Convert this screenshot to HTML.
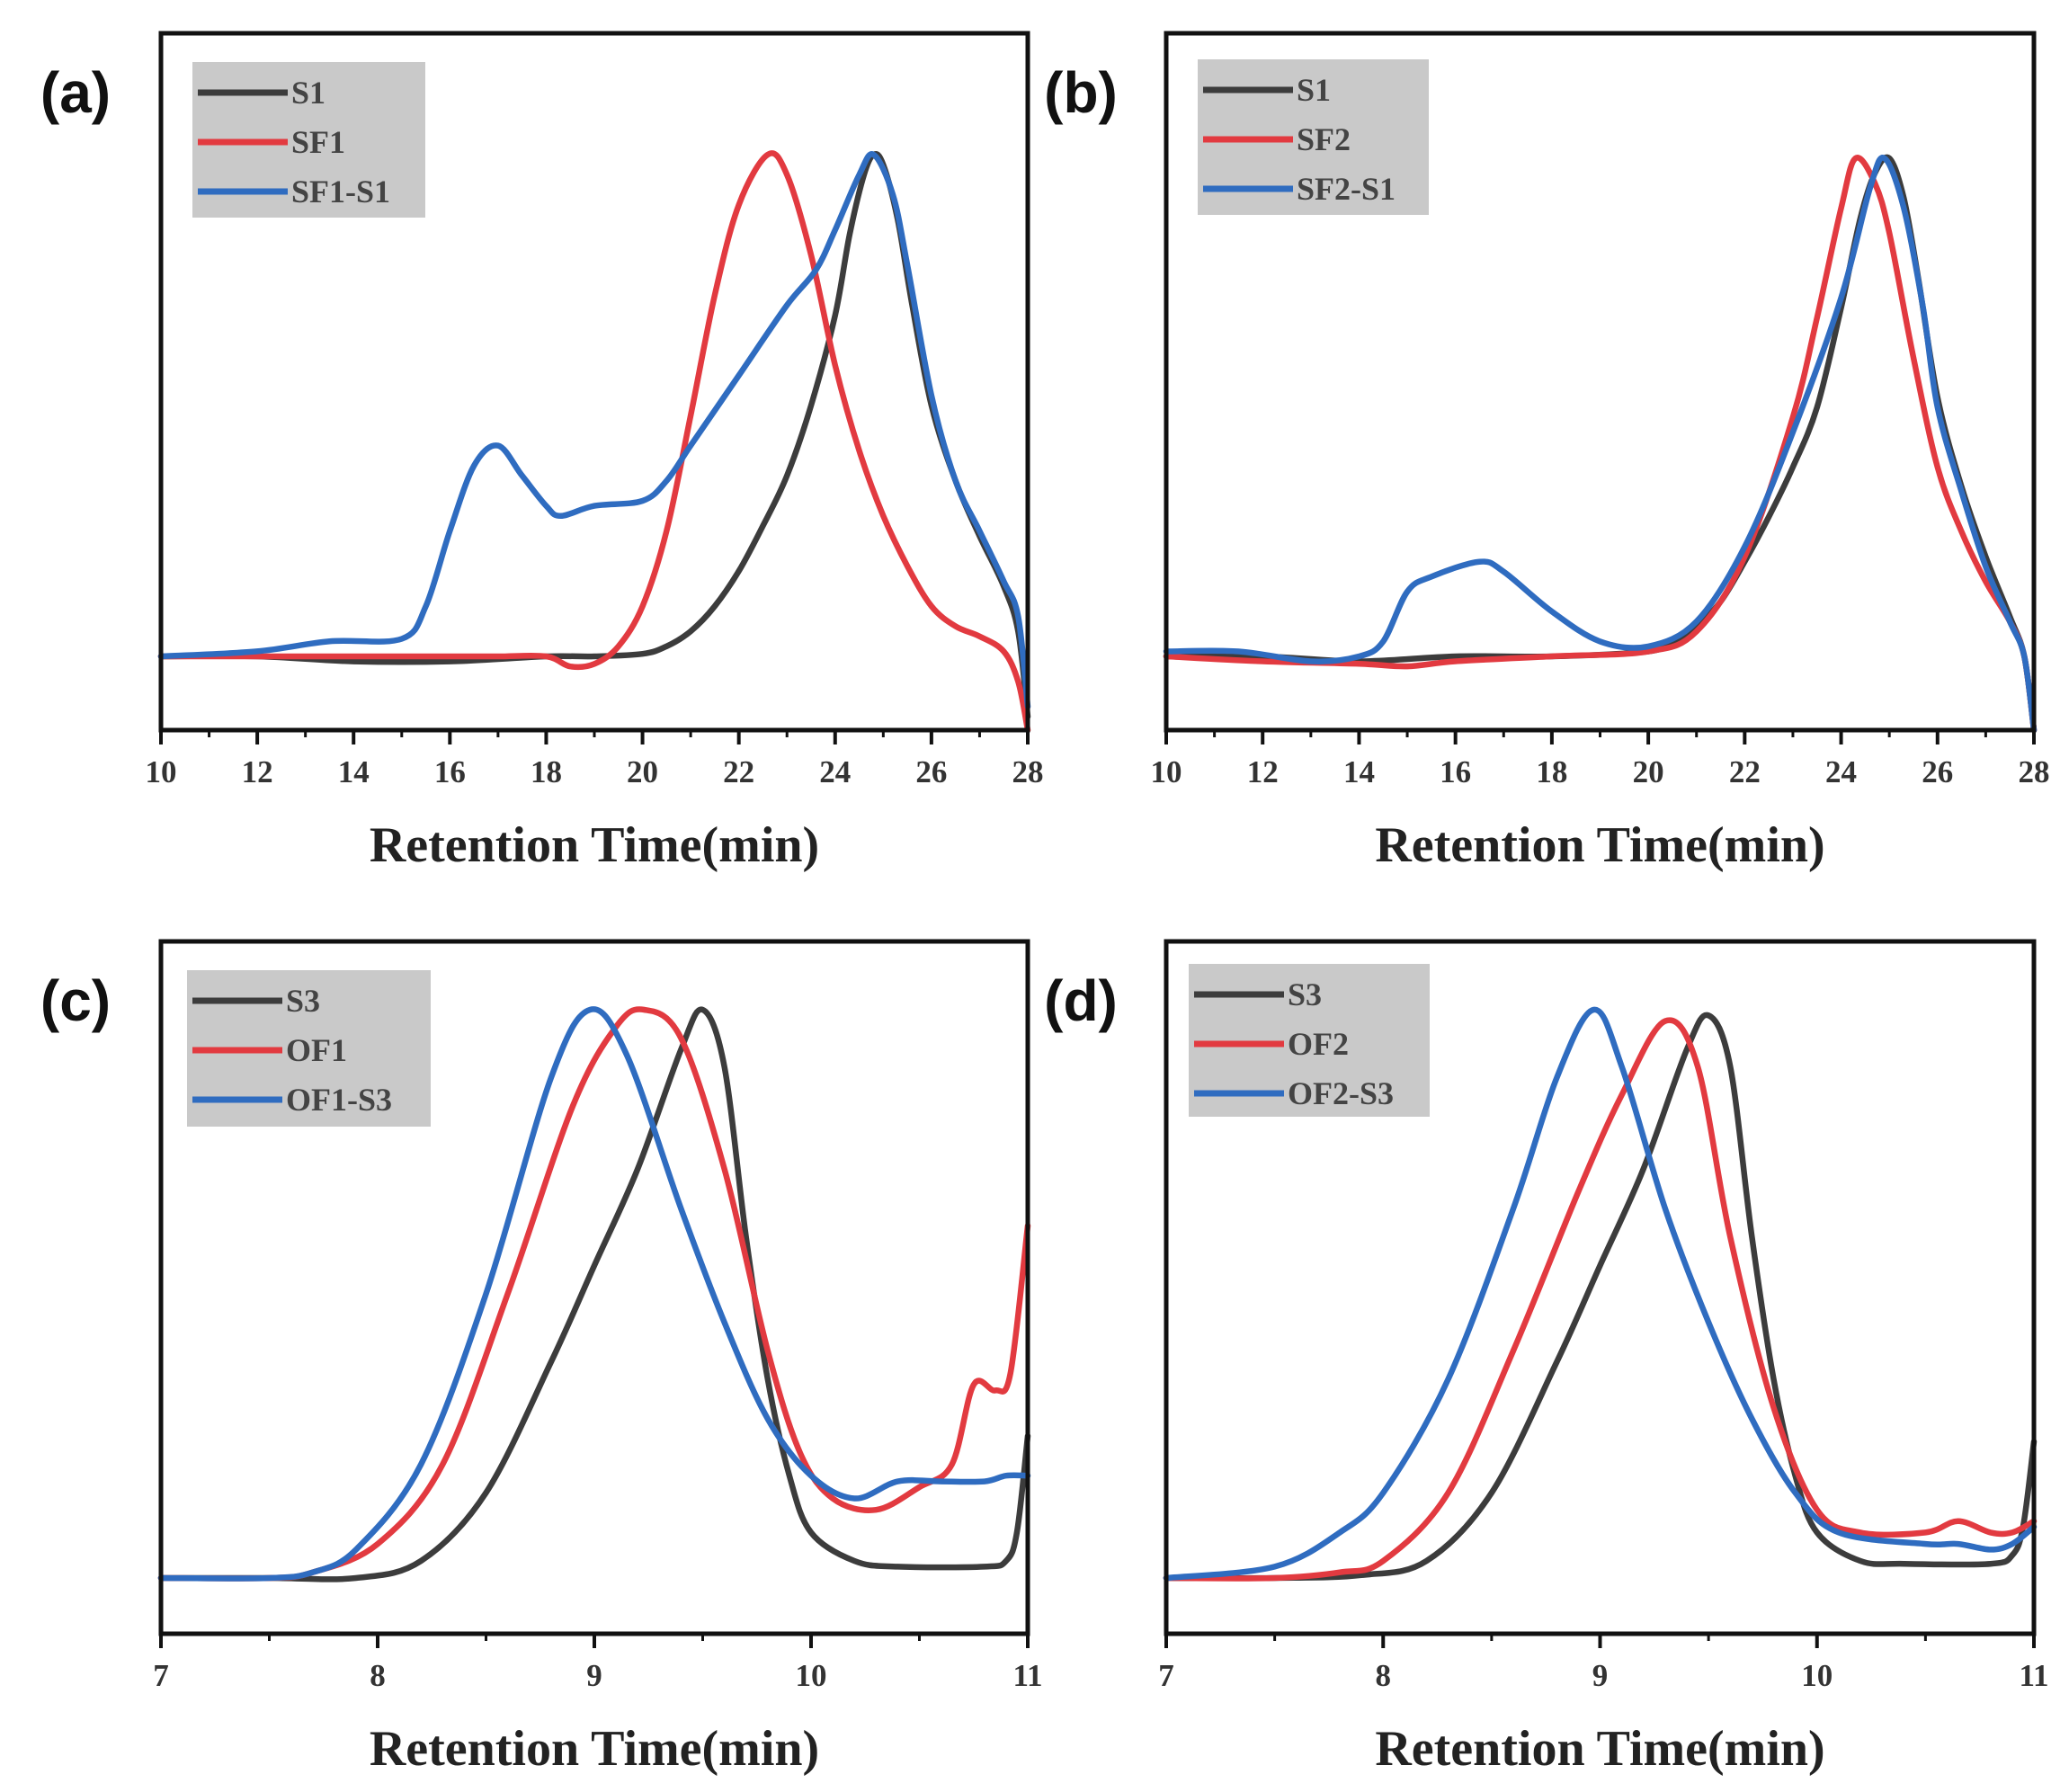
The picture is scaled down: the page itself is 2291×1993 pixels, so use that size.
<!DOCTYPE html>
<html><head><meta charset="utf-8">
<style>
html,body{margin:0;padding:0;background:#fff;}
svg{display:block;}
</style></head>
<body>
<svg id="fig" width="2291" height="1993" viewBox="0 0 2291 1993" xmlns="http://www.w3.org/2000/svg"></svg>
<script>
// ---------- DATA ----------
const aS1x   = [10,12,14,16,18,19,20,20.5,21,21.5,22,22.5,23,23.5,24,24.3,24.6,24.8,25,25.3,25.6,26,26.5,27,27.5,27.8,28];
const aS1y   = [0,0,-0.01,-0.01,0,0,0.005,0.02,0.05,0.1,0.17,0.26,0.36,0.5,0.68,0.84,0.96,1.0,0.98,0.87,0.7,0.5,0.35,0.24,0.14,0.05,-0.12];
const aSF1x  = [10,12,14,16,17,18,18.5,19,19.5,20,20.5,21,21.5,22,22.6,23,23.5,24,24.5,25,25.5,26,26.5,27,27.5,27.8,28];
const aSF1y  = [0,0,0,0,0,0,-0.02,-0.015,0.02,0.1,0.25,0.48,0.72,0.9,1.0,0.96,0.8,0.58,0.41,0.28,0.18,0.1,0.06,0.04,0.01,-0.05,-0.15];
const aMixx  = [10,12,13.5,15,15.5,16,16.5,17,17.5,18,18.3,19,20,20.5,21,22,23,23.6,24,24.5,24.8,25.2,25.5,26,26.5,27,27.5,27.8,28];
const aMixy  = [0,0.01,0.03,0.035,0.1,0.25,0.38,0.42,0.36,0.3,0.28,0.3,0.31,0.35,0.42,0.56,0.7,0.77,0.85,0.96,1.0,0.92,0.78,0.52,0.35,0.25,0.15,0.08,-0.1];

const bS1x   = [10,12,14,16,18,20,20.5,21,21.5,22,22.5,23,23.5,24,24.4,24.7,25,25.3,25.6,26,26.5,27,27.5,27.8,28];
const bS1y   = [0,0,-0.01,0,0,0.01,0.03,0.06,0.11,0.19,0.28,0.38,0.5,0.7,0.88,0.97,1.0,0.92,0.76,0.52,0.34,0.2,0.08,0.0,-0.15];
const bSF2x  = [10,12,14,15,16,18,20,21,22,23,23.5,24,24.3,24.7,25,25.5,26,26.5,27,27.5,27.8,28];
const bSF2y  = [0,-0.01,-0.015,-0.02,-0.01,0,0.01,0.05,0.2,0.48,0.68,0.9,1.0,0.95,0.85,0.6,0.38,0.25,0.15,0.07,0.0,-0.15];
const bMixx  = [10,11.5,13,14,14.5,15,15.5,16.5,17,18,19,20,21,22,23,24,24.6,24.9,25.3,25.7,26,26.5,27,27.5,27.8,28];
const bMixy  = [0.01,0.01,-0.01,0.0,0.03,0.13,0.16,0.19,0.17,0.09,0.03,0.02,0.07,0.22,0.45,0.72,0.94,1.0,0.9,0.7,0.5,0.33,0.18,0.07,0.0,-0.15];

const cS3x   = [7,7.5,7.9,8.2,8.5,8.8,9.0,9.2,9.4,9.5,9.6,9.7,9.8,9.9,10,10.2,10.4,10.8,10.9,10.95,11];
const cS3y   = [0,0,0,0.03,0.15,0.38,0.55,0.72,0.93,1.0,0.9,0.6,0.35,0.18,0.08,0.03,0.02,0.02,0.03,0.08,0.25];
const cOF1x  = [7,7.5,7.7,8,8.3,8.6,8.9,9.1,9.23,9.4,9.6,9.8,9.95,10.1,10.3,10.5,10.65,10.75,10.85,10.92,11];
const cOF1y  = [0,0,0.01,0.06,0.2,0.5,0.83,0.97,1.0,0.95,0.72,0.4,0.22,0.14,0.12,0.16,0.2,0.34,0.33,0.36,0.62];
const cMixx  = [7,7.5,7.7,7.9,8.2,8.5,8.8,8.98,9.15,9.4,9.6,9.8,10,10.2,10.4,10.6,10.8,10.9,11];
const cMixy  = [0,0,0.01,0.05,0.2,0.5,0.88,1.0,0.92,0.65,0.45,0.28,0.18,0.14,0.17,0.17,0.17,0.18,0.18];

const dS3x   = [7,7.5,7.9,8.2,8.5,8.8,9.0,9.2,9.4,9.5,9.6,9.7,9.8,9.9,10,10.2,10.4,10.8,10.9,10.95,11];
const dS3y   = [0,0,0.005,0.03,0.15,0.38,0.55,0.72,0.93,0.99,0.9,0.6,0.35,0.18,0.08,0.03,0.025,0.025,0.04,0.09,0.24];
const dOF2x  = [7,7.5,7.8,8,8.3,8.6,8.9,9.1,9.3,9.45,9.6,9.8,10,10.2,10.5,10.65,10.8,10.9,11];
const dOF2y  = [0,0,0.01,0.03,0.15,0.4,0.68,0.85,0.98,0.9,0.6,0.3,0.12,0.08,0.08,0.1,0.08,0.08,0.1];
const dMixx  = [7,7.5,7.8,8,8.3,8.6,8.8,8.97,9.1,9.3,9.5,9.7,9.9,10.1,10.5,10.65,10.8,10.9,11];
const dMixy  = [0,0.02,0.08,0.15,0.35,0.65,0.88,1.0,0.9,0.65,0.45,0.28,0.15,0.08,0.06,0.06,0.05,0.06,0.09];

const ticksTop = [10,12,14,16,18,20,22,24,26,28];
const ticksBot = [7,8,9,10,11];
const legA = ["S1","SF1","SF1-S1"];
const legB = ["S1","SF2","SF2-S1"];
const legC = ["S3","OF1","OF1-S3"];
const legD = ["S3","OF2","OF2-S3"];

// ---------- DRAW ----------
const NS = "http://www.w3.org/2000/svg";
const fig = document.getElementById('fig');
const COLORS = ["#3c3c3c","#e23a40","#2f6cc0"];
function mk(tag, attrs, parent){
  const e = document.createElementNS(NS, tag);
  for (const k in attrs) e.setAttribute(k, attrs[k]);
  (parent||fig).appendChild(e);
  return e;
}
function smoothPath(pts){
  let d = "M"+pts[0][0].toFixed(1)+","+pts[0][1].toFixed(1);
  for (let i=0;i<pts.length-1;i++){
    const p0=pts[Math.max(0,i-1)], p1=pts[i], p2=pts[i+1], p3=pts[Math.min(pts.length-1,i+2)];
    const c1x=p1[0]+(p2[0]-p0[0])/6, c1y=p1[1]+(p2[1]-p0[1])/6;
    const c2x=p2[0]-(p3[0]-p1[0])/6, c2y=p2[1]-(p3[1]-p1[1])/6;
    d+=" C"+c1x.toFixed(1)+","+c1y.toFixed(1)+" "+c2x.toFixed(1)+","+c2y.toFixed(1)+" "+p2[0].toFixed(1)+","+p2[1].toFixed(1);
  }
  return d;
}
function panel(id, label, L, T, R, B, base, peak, xmin, xmax, ticks, minor, series, leg, legBox){
  const g = mk('g', {});
  
  
  const xs = v => L + (v - xmin) / (xmax - xmin) * (R - L);
  const ys = v => base - v * (base - peak);
  series.forEach((s, i) => {
    const pts = s[0].map((x, k) => [xs(x), Math.min(B, ys(s[1][k]))]);
    const p = mk('path', {d: smoothPath(pts), fill: 'none', stroke: COLORS[i], 'stroke-width': 6.5, 'stroke-linejoin':'round','stroke-linecap':'round'}, g);
    
    
  });
  const fr = mk('rect', {x: L, y: T, width: R-L, height: B-T, fill: 'none', stroke: '#111', 'stroke-width': 5}, g);
  
  
  ticks.forEach(t => {
    const x = xs(t);
    const tk = mk('line', {x1: x, y1: B, x2: x, y2: B+16, stroke: '#111', 'stroke-width': 4}, g);
    
    
    const tl = mk('text', {x: x, y: B+58, 'text-anchor': 'middle', 'font-family': 'Liberation Serif, serif', 'font-weight': 'bold', 'font-size': 35, fill: '#333'}, g);
    tl.textContent = t;
    
    
  });
  for (let t = xmin + minor; t < xmax; t += minor * 2) {
    const x = xs(t);
    const mt = mk('line', {x1: x, y1: B, x2: x, y2: B+8, stroke: '#111', 'stroke-width': 3}, g);
    
    
  }
  const xl = mk('text', {x: (L+R)/2, y: B+146, 'text-anchor': 'middle', 'font-family': 'Liberation Serif, serif', 'font-weight': 'bold', 'font-size': 56, fill: '#222'}, g);
  xl.textContent = 'Retention Time(min)';
  
  
  const pl = mk('text', {x: L-95, y: T+88, 'text-anchor': 'middle', 'font-family': 'Liberation Sans, sans-serif', 'font-weight': 'bold', 'font-size': 64, fill: '#111'}, g);
  pl.textContent = label;
  
  
  const lg = mk('g', {}, g);
  
  
  mk('rect', {x: legBox[0], y: legBox[1], width: legBox[2], height: legBox[3], fill: '#c9c9c9'}, lg);
  leg.forEach((name, i) => {
    const yy = legBox[1] + 34 + i * 55;
    const en = mk('g', {}, lg);
    
    
    mk('line', {x1: legBox[0]+6, y1: yy, x2: legBox[0]+106, y2: yy, stroke: COLORS[i], 'stroke-width': 7}, en);
    const tx = mk('text', {x: legBox[0]+110, y: yy+12, 'font-family': 'Liberation Serif, serif', 'font-weight': 'bold', 'font-size': 36, fill: '#444'}, en);
    tx.textContent = name;
  });
}
panel('a','(a)',179,37,1143,812,730,172,10,28,ticksTop,1,[[aS1x,aS1y],[aSF1x,aSF1y],[aMixx,aMixy]],legA,[214,69,259,173]);
panel('b','(b)',1297,37,2262,812,730,176,10,28,ticksTop,1,[[bS1x,bS1y],[bSF2x,bSF2y],[bMixx,bMixy]],legB,[1332,66,257,173]);
panel('c','(c)',179,1047,1143,1817,1755,1123,7,11,ticksBot,0.5,[[cS3x,cS3y],[cOF1x,cOF1y],[cMixx,cMixy]],legC,[208,1079,271,174]);
panel('d','(d)',1297,1047,2262,1817,1755,1123,7,11,ticksBot,0.5,[[dS3x,dS3y],[dOF2x,dOF2y],[dMixx,dMixy]],legD,[1322,1072,268,170]);
</script>
</body></html>
